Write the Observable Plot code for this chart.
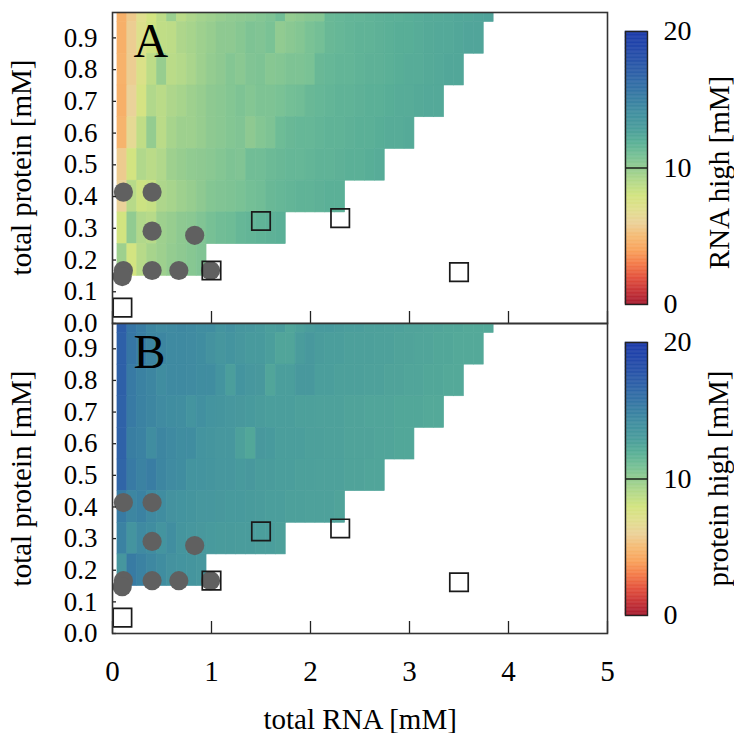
<!DOCTYPE html>
<html><head><meta charset="utf-8">
<script src="https://cdn.jsdelivr.net/npm/d3@7"></script>
<script src="https://cdn.jsdelivr.net/npm/@observablehq/plot@0.6"></script>
<style>
body{margin:0;background:#fff;font-family:"Liberation Serif",serif;}
#root{position:relative;width:734px;height:733px;overflow:hidden;background:#fff;}
#root svg{position:absolute;overflow:visible;}
.lab{position:absolute;font-family:"Liberation Serif",serif;font-size:29px;white-space:nowrap;text-align:center;color:#000;line-height:1;}
</style></head><body><div id="root"></div>
<script>
// ---- grid categories ----
const proteinRows = [1.0, 0.9, 0.8, 0.7, 0.6, 0.5, 0.4, 0.3, 0.2];
const rnaCols = [0.1,0.2,0.3,0.4,0.5,0.6,0.7,0.8,0.9,1.0,1.1,1.2,1.3,1.4,1.5,1.6,1.7,1.8,1.9,2.0,
  2.1,2.2,2.3,2.4,2.5,2.6,2.7,2.8,2.9,3.0,3.1,3.2,3.3,3.4,3.5,3.6,3.7,3.8];

// ---- panel A: RNA high [mM], one array per protein row ----
const rnaHigh_p10 = [4.5,5.6,7.0,7.9,8.7,9.8,8.8,9.2,9.5,9.7,9.9,10.1,10.2,10.3,10.5,10.7,11.1,10.0,10.2,10.4,10.5,11.4,11.5,11.6,11.6,11.7,11.8,11.9,11.9,12.0,12.1,12.2,12.2,12.3,12.4,12.4,12.5,12.6];
const rnaHigh_p09 = [4.5,5.8,7.2,8.1,8.6,8.7,9.2,9.4,9.7,9.9,10.2,10.2,10.4,10.7,10.6,10.8,10.1,10.3,10.5,10.8,11.0,11.4,11.5,11.6,11.7,11.7,11.8,11.9,12.0,12.0,12.1,12.2,12.3,12.3,12.4,12.5,12.5];
const rnaHigh_p08 = [4.6,5.8,7.4,8.7,9.9,8.8,9.0,9.3,9.7,10.0,10.2,10.5,10.3,10.6,10.7,10.4,10.5,10.7,10.7,10.8,11.4,11.5,11.6,11.6,11.7,11.8,11.8,11.9,12.0,12.1,12.1,12.2,12.3,12.4,12.4];
const rnaHigh_p07 = [4.5,6.0,7.8,9.1,8.8,9.2,9.4,9.7,9.9,10.2,10.3,10.5,10.7,10.5,10.7,10.7,10.8,11.0,11.1,11.4,11.5,11.6,11.7,11.7,11.8,11.9,11.9,12.0,12.1,12.1,12.2,12.3,12.3];
const rnaHigh_p06 = [4.7,6.5,8.6,10.0,8.8,9.4,9.7,9.7,9.9,10.2,10.3,10.5,10.6,10.2,10.5,10.7,11.2,11.4,11.5,11.5,11.6,11.7,11.7,11.8,11.9,11.9,12.0,12.1,12.1,12.2];
const rnaHigh_p05 = [5.7,7.9,9.1,8.8,9.1,9.7,9.9,10.1,10.2,10.3,10.5,10.7,10.6,11.1,11.1,11.3,11.4,11.5,11.5,11.6,11.7,11.7,11.8,11.9,11.9,12.0,12.1];
const rnaHigh_p04 = [6.0,8.9,8.2,8.4,9.2,9.4,9.7,9.9,10.2,10.5,10.6,10.7,10.8,11.0,11.1,11.4,11.5,11.6,11.7,11.7,11.8,11.9,11.9];
const rnaHigh_p03 = [8.0,10.1,9.1,8.9,9.7,9.9,10.2,10.3,10.6,10.9,11.1,11.2,11.5,11.6,11.7,11.8,11.9];
const rnaHigh_p02 = [9.7,7.9,8.9,9.4,9.7,10.0,10.2,10.4,10.6];

// ---- panel B: protein high [mM] ----
const protHigh_p10 = [17.2,15.7,15.2,14.6,14.3,14.4,14.5,14.4,14.2,14.2,13.7,13.9,13.5,13.4,13.2,12.9,13.0,12.5,12.8,13.0,13.2,13.2,13.0,12.9,12.9,12.8,12.8,12.7,12.7,12.6,12.6,12.5,12.5,12.4,12.4,12.3,12.3,12.3];
const protHigh_p09 = [17.0,15.6,15.1,14.7,14.6,14.4,14.4,14.3,14.2,13.8,13.5,13.7,13.4,13.2,13.2,12.9,12.5,12.5,13.0,13.3,13.0,12.9,12.9,12.8,12.8,12.8,12.7,12.7,12.6,12.6,12.5,12.5,12.4,12.4,12.3,12.3,12.3];
const protHigh_p08 = [17.0,15.4,14.9,14.6,14.2,14.4,14.4,14.3,14.2,14.2,13.7,12.9,13.7,13.4,13.3,12.5,12.9,12.9,13.3,13.3,12.9,12.9,12.8,12.8,12.8,12.7,12.7,12.6,12.6,12.5,12.5,12.4,12.4,12.3,12.3];
const protHigh_p07 = [16.9,15.4,14.9,14.6,14.3,14.2,14.1,13.7,14.0,13.7,13.6,13.4,13.3,13.2,13.0,12.9,12.9,12.9,12.8,12.8,12.7,12.7,12.7,12.6,12.6,12.5,12.5,12.5,12.4,12.4,12.4,12.3,12.3];
const protHigh_p06 = [16.9,15.1,14.9,14.2,14.6,14.4,14.2,14.2,13.7,13.6,13.4,13.4,12.8,12.4,13.3,13.2,12.9,12.9,12.9,12.8,12.8,12.7,12.7,12.6,12.6,12.6,12.5,12.5,12.4,12.4];
const protHigh_p05 = [16.7,15.4,14.9,15.2,14.6,14.3,14.2,13.7,13.7,13.6,13.4,13.4,13.2,13.3,13.0,13.0,12.9,12.9,12.8,12.8,12.7,12.7,12.7,12.6,12.6,12.5,12.5];
const protHigh_p04 = [15.3,14.6,14.9,14.4,14.2,13.8,13.7,13.6,13.4,13.4,13.3,13.2,13.2,13.1,13.0,12.9,12.9,12.8,12.8,12.7,12.7,12.7,12.6];
const protHigh_p03 = [14.9,13.7,14.4,14.2,13.7,14.1,13.6,13.4,13.3,13.2,13.1,13.1,13.0,13.0,12.9,12.9,12.8];
const protHigh_p02 = [13.5,15.3,14.9,14.5,14.2,13.8,13.7,13.6,13.4];

// ---- markers ----
const circleRNA     = [0.11, 0.40, 0.40, 0.83, 0.11, 0.098, 0.40, 0.67, 0.99];
const circleProtein = [0.414, 0.414, 0.291, 0.278, 0.167, 0.148, 0.167, 0.167, 0.167];
const squareRNA     = [1.50, 2.30, 3.50, 0.10, 1.00];
const squareProtein = [0.323, 0.332, 0.162, 0.05, 0.167];

// ---- ticks / labels ----
const xTicks = [0, 1, 2, 3, 4, 5];
const yTicks = [0, 0.1, 0.2, 0.3, 0.4, 0.5, 0.6, 0.7, 0.8, 0.9];
const cbarTicks = [0, 10, 20];
const colorStops = [0,1,2,3,4,5,6,7,8,9,10,11,12,13,14,15,16,17,18,19,20];
const colorHex = ["#a51c30","#c83538","#e4543e","#f47d4b","#f9a45e","#f5bb74","#ead29a","#e0df8e","#d2e480","#b4d98a",
  "#94cc90","#74bf96","#58ae97","#4a9c9c","#4290a0","#3a80a2","#3470a6","#2e60a8","#2852a9","#2246aa","#1c3aab"];

const colorOpts = {type: "linear", domain: colorStops, range: colorHex, interpolate: "rgb", clamp: true};
const FONT = "Liberation Serif";

function table(rows) {
  const out = [];
  rows.forEach((vals, i) => vals.forEach((v, j) => out.push({rna: rnaCols[j], protein: proteinRows[i], value: v})));
  return out;
}
const dataA = table([rnaHigh_p10, rnaHigh_p09, rnaHigh_p08, rnaHigh_p07, rnaHigh_p06, rnaHigh_p05, rnaHigh_p04, rnaHigh_p03, rnaHigh_p02]);
const dataB = table([protHigh_p10, protHigh_p09, protHigh_p08, protHigh_p07, protHigh_p06, protHigh_p05, protHigh_p04, protHigh_p03, protHigh_p02]);

const root = document.getElementById("root");

function panel(data, letter, withXLabels, height, mt, mb, top) {
  const p = Plot.plot({
    width: 620, height, marginLeft: 112, marginRight: 13, marginTop: mt, marginBottom: mb,
    style: {fontFamily: FONT, fontSize: "27px", color: "#000", background: "transparent", overflow: "visible"},
    x: {domain: [0, 5]},
    y: {domain: [0, 0.98]},
    color: colorOpts,
    marks: [
      Plot.rect(data, {x1: d => d.rna - 0.05, x2: d => d.rna + 0.05, y1: d => d.protein - 0.05, y2: d => d.protein + 0.05,
        fill: "value", stroke: "value", strokeWidth: 0.6, clip: true}),
      Plot.dot(circleRNA, {x: circleRNA, y: circleProtein, r: 9.6, fill: "#606060", stroke: null}),
      Plot.dot(squareRNA, {x: squareRNA, y: squareProtein, symbol: "square", r: 10.4, fill: "none", stroke: "#1a1a1a", strokeWidth: 1.7}),
      Plot.axisY(yTicks, {tickSize: -4, tickPadding: 19, tickFormat: d => d.toFixed(1), label: null, fontSize: 27, stroke: "#222", strokeWidth: 1.3}),
      Plot.axisX(xTicks, {tickSize: -12, tickPadding: 39, tickFormat: withXLabels ? (d => String(d)) : (() => ""), label: null, fontSize: 29, stroke: "#222", strokeWidth: 1.3}),
      Plot.text([letter], {frameAnchor: "top-left", textAnchor: "start", lineAnchor: "top", dx: 21, dy: 10, fontSize: 48, fontFamily: FONT, fill: "#000"}),
      Plot.frame({stroke: "#333", strokeWidth: 1.6})
    ]
  });
  p.style.left = "0px"; p.style.top = top + "px";
  root.appendChild(p);
}

function colorbar(top) {
  const steps = d3.range(0, 20, 0.1);
  const cb = Plot.plot({
    width: 122, height: 303, marginLeft: 0, marginRight: 100, marginTop: 15, marginBottom: 15,
    style: {fontFamily: FONT, fontSize: "28px", color: "#000", background: "transparent", overflow: "visible"},
    x: {domain: [0, 1], axis: null},
    y: {domain: [0, 20]},
    color: colorOpts,
    marks: [
      Plot.rect(steps, {x1: 0, x2: 1, y1: d => d, y2: d => d + 0.1, fill: d => d + 0.05, stroke: d => d + 0.05, strokeWidth: 0.5}),
      Plot.ruleY([10], {stroke: "#111", strokeWidth: 1.4}),
      Plot.frame({stroke: "#222", strokeWidth: 1.4}),
      Plot.axisY(cbarTicks, {anchor: "right", tickSize: 0, tickPadding: 16, label: null, fontSize: 28})
    ]
  });
  cb.style.left = "625px"; cb.style.top = top + "px";
  root.appendChild(cb);
}

panel(dataA, "A", false, 330, 12, 7, 0);
panel(dataB, "B", true, 384, 7, 67, 316);
colorbar(16);
colorbar(327);

function label(text, cx, cy, rotate) {
  const d = document.createElement("div");
  d.className = "lab";
  d.textContent = text;
  root.appendChild(d);
  const w = d.offsetWidth, h = d.offsetHeight;
  d.style.left = (cx - w / 2) + "px";
  d.style.top = (cy - h / 2) + "px";
  if (rotate) d.style.transform = "rotate(-90deg)";
}
label("total protein [mM]", 22, 167, true);
label("total protein [mM]", 22, 478, true);
label("total RNA [mM]", 360, 719, false);
label("RNA high [mM]", 719, 172, true);
label("protein high [mM]", 719, 478, true);
</script></body></html>
